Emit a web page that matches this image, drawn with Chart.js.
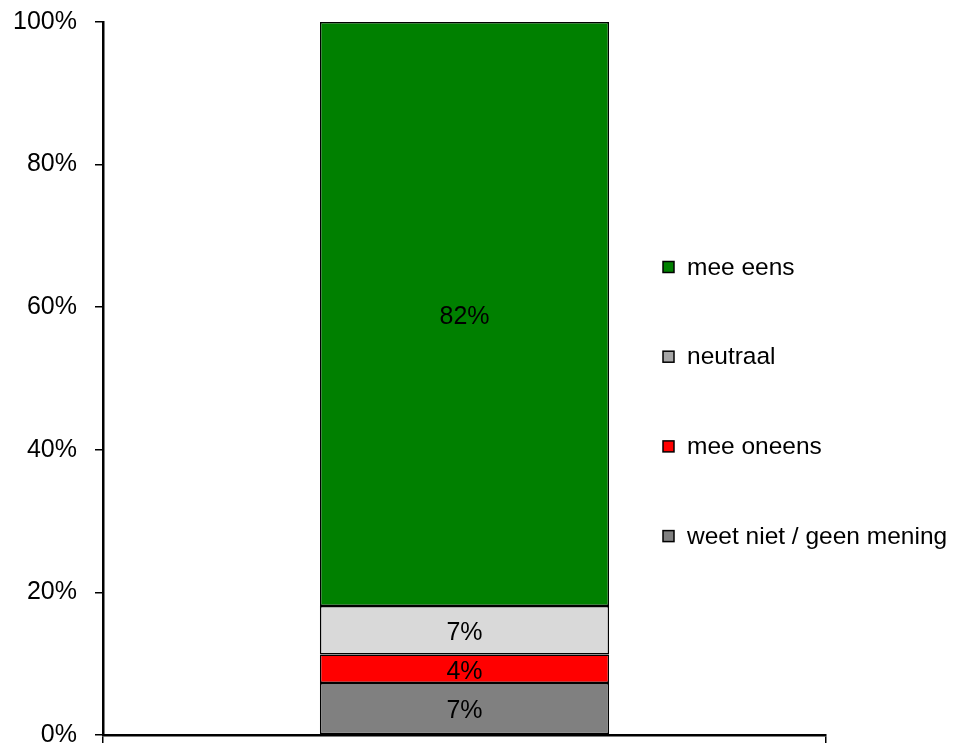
<!DOCTYPE html>
<html>
<head>
<meta charset="utf-8">
<script src="https://cdn.jsdelivr.net/npm/chart.js@4/dist/chart.umd.min.js"></script>
<style>
  html, body { margin: 0; padding: 0; background: #fff; }
  #wrap { width: 955px; height: 743px; }
</style>
</head>
<body>
<div id="wrap"><canvas id="chart" width="955" height="743"></canvas></div>
<script>
// data (percent of answers)
const categories = [''];
const seriesNames = ['weet niet / geen mening', 'mee oneens', 'neutraal', 'mee eens'];
const weetNiet = [7.3];
const meeOneens = [4.0];
const neutraal = [6.8];
const meeEens = [81.9];
const shownLabels = ['7%', '4%', '7%', '82%'];
const yTicks = [0, 20, 40, 60, 80, 100];

const barColors = ['#808080', '#ff0000', '#d9d9d9', '#008000'];
const legendColors = ['#808080', '#ff0000', '#a6a6a6', '#008000'];
const fontFamily = '"Liberation Sans", Arial, sans-serif';

const seriesValues = [weetNiet, meeOneens, neutraal, meeEens];

// labels inside the segments
const segmentLabels = {
    id: 'segmentLabels',
    afterDatasetsDraw(chart) {
        const ctx = chart.ctx;
        ctx.save();
        ctx.fillStyle = '#000';
        ctx.font = '25px ' + fontFamily;
        ctx.textAlign = 'center';
        ctx.textBaseline = 'middle';
        chart.data.datasets.forEach((ds, i) => {
            const meta = chart.getDatasetMeta(i);
            meta.data.forEach(bar => {
                const y = (bar.y + bar.base) / 2;
                ctx.fillText(ds.shownLabel, bar.x, y + 3);
            });
        });
        ctx.restore();
    }
};

// legend drawn over the right part of the plot, top item = top segment
const sideLegend = {
    id: 'sideLegend',
    afterDraw(chart) {
        const ctx = chart.ctx;
        const items = chart.data.datasets.slice().reverse();
        ctx.save();
        ctx.font = '24.5px ' + fontFamily;
        ctx.textBaseline = 'middle';
        items.forEach((ds, k) => {
            const cy = 267 + k * 89.7;
            ctx.fillStyle = ds.legendColor;
            ctx.fillRect(663, cy - 5.5, 11, 11);
            ctx.strokeStyle = '#000';
            ctx.lineWidth = 1.5;
            ctx.strokeRect(663, cy - 5.5, 11, 11);
            ctx.fillStyle = '#000';
            ctx.fillText(ds.label, 687, cy + 1);
        });
        ctx.restore();
    }
};

const datasets = seriesNames.map((name, i) => ({
    label: name,
    data: seriesValues[i],
    shownLabel: shownLabels[i],
    backgroundColor: barColors[i],
    legendColor: legendColors[i],
    borderColor: '#000',
    borderWidth: 1.5,
    borderSkipped: false,
    barPercentage: 0.4,
    categoryPercentage: 1.0
}));

new Chart(document.getElementById('chart').getContext('2d'), {
    type: 'bar',
    data: { labels: categories, datasets: datasets },
    options: {
        responsive: false,
        animation: false,
        layout: { padding: { top: 22, right: 129, bottom: 0, left: 0 } },
        plugins: {
            legend: { display: false },
            tooltip: { enabled: false }
        },
        scales: {
            x: {
                stacked: true,
                border: { color: '#000', width: 2.5 },
                grid: { drawOnChartArea: false, color: '#000', tickLength: 8, lineWidth: 1.5 },
                ticks: { display: false },
                afterFit(scale) { scale.height = 8; }
            },
            y: {
                stacked: true,
                min: 0,
                max: 100,
                afterBuildTicks(scale) { scale.ticks = yTicks.map(v => ({ value: v })); },
                border: { color: '#000', width: 2.5 },
                grid: { drawOnChartArea: false, color: '#000', tickLength: 8, lineWidth: 1.5 },
                ticks: {
                    color: '#000',
                    padding: 18,
                    font: { family: fontFamily, size: 25 },
                    callback: v => v + '%'
                },
                afterFit(scale) {
                    scale.width = 103;
                    scale.paddingTop = 0;
                    scale.paddingBottom = 0;
                }
            }
        }
    },
    plugins: [segmentLabels, sideLegend]
});
</script>
</body>
</html>
